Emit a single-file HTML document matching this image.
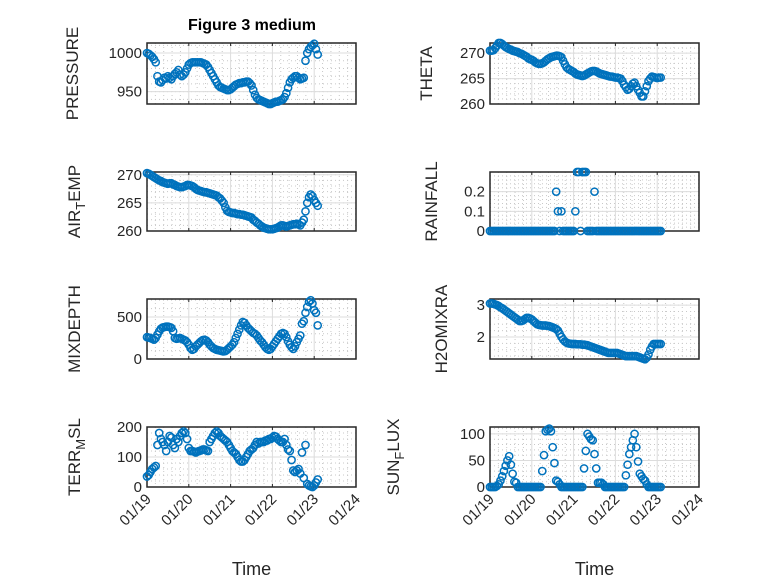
<!DOCTYPE html>
<html><head><meta charset="utf-8">
<style>
html,body{margin:0;padding:0;background:#fff;}
svg{display:block;font-family:"Liberation Sans",sans-serif;}
</style></head>
<body>
<svg id="fig" width="778" height="583" viewBox="0 0 778 583" xmlns="http://www.w3.org/2000/svg">
<rect width="778" height="583" fill="#fff"/>
<text x="252" y="30" text-anchor="middle" font-size="16" font-weight="bold" fill="#000">Figure 3 medium</text>
</svg>
<script>
const hoursStep = 1;
const pressure = [1000,999,997,995,992,988, 970,963,962,965,968,967, 970,968,966,970,973,975, 978,972,970,972,975,980, 985,987,988,988,988,988, 988,988,987,986,985,982, 978,974,970,966,962,958, 956,955,954,953,952,952, 953,955,957,959,960,961, 961,962,962,963,963,961, 958,952,946,942,940,939, 938,937,936,935,934,934, 935,936,937,937,938,939, 940,943,948,955,962,966, 968,970,970,968,966,967, 968,990,1000,1005,1008,1010, 1012,1005,998];
const airTemp = [270.3,270.2,270,269.8,269.6,269.4, 269.2,269,268.9,268.7,268.6,268.5, 268.4,268.5,268.5,268.3,268.2,268, 267.9,267.8,267.8,267.9,268,268.2, 268.2,268.1,268,267.8,267.5,267.3, 267.2,267.1,267,266.9,266.9,266.8, 266.7,266.6,266.5,266.4,266.3,266, 265.8,265.4,265,264.2,263.6,263.4, 263.3,263.2,263.2,263.1,263,263, 262.9,262.9,262.8,262.7,262.6,262.5, 262.4,262,261.8,261.5,261.3,261, 260.8,260.6,260.5,260.4,260.3,260.3, 260.3,260.4,260.5,260.6,260.8,261, 261,260.9,260.8,260.9,261,261.1, 261.2,261.2,261.3,261.2,261,261.5, 262,263.5,265,266,266.5,266.2, 265.5,265,264.5];
const mixDepth = [260,255,250,240,230,250, 290,330,360,375,380,385, 385,380,370,330,250,240, 245,250,240,230,220,200, 170,130,110,120,150,170, 190,210,225,230,220,200, 170,150,130,120,110,105, 100,95,90,95,110,130, 150,170,200,250,300,350, 400,440,430,400,370,350, 330,310,300,280,250,220, 200,170,140,120,110,120, 150,180,210,240,270,300, 310,300,260,210,170,140, 120,150,200,240,280,420, 450,550,620,680,700,660, 580,550,400];
const terrMsl = [35,40,50,60,65,70, 140,180,160,150,140,120, 150,170,165,140,130,160, 150,170,180,185,180,160, 130,120,120,118,115,118, 120,122,125,125,122,120, 150,160,170,180,185,180, 170,165,160,155,150,140, 130,120,115,110,100,90, 85,85,90,100,110,120, 125,130,140,150,145,150, 150,150,155,155,160,160, 165,170,168,160,155,150, 150,160,140,125,120,90, 55,50,55,60,45,115, 30,140,10,5,2,0, 5,15,25];
const theta = [270.5,270.5,270.6,271,271.5,272, 272,271.8,271.5,271.2,271,270.8, 270.7,270.5,270.4,270.3,270.2,270, 269.9,269.7,269.5,269.3,269,268.8, 268.7,268.5,268.2,268,267.9,267.9, 268,268.2,268.5,268.8,269,269.2, 269.3,269.4,269.5,269.5,269.4,269.2, 268.5,267.8,267.2,266.9,266.7,266.5, 266.3,266,265.8,265.7,265.6,265.5, 265.6,265.8,266,266.2,266.4,266.5, 266.5,266.4,266.2,266,265.9,265.8, 265.7,265.6,265.5,265.4,265.4,265.3, 265.2,265.2,265.1,265,264.5,263.8, 263.3,262.8,263,263.5,264,264.2, 263.5,262.8,262.2,261.5,261.5,262.5, 263.5,264.5,265,265.4,265.3,265.2, 265.1,265.2,265.2];
const rainfall = [0,0,0,0,0,0, 0,0,0,0,0,0, 0,0,0,0,0,0, 0,0,0,0,0,0, 0,0,0,0,0,0, 0,0,0,0,0,0, 0,0,0.2,0.1,0,0.1, 0,0,0,0,0,0, 0,0.1,0.3,0.3,0,0.3, 0.3,0.3,0,0,0,0, 0.2,0,0,0,0,0, 0,0,0,0,0,0, 0,0,0,0,0,0, 0,0,0,0,0,0, 0,0,0,0,0,0, 0,0,0,0,0,0, 0,0,0];
const h2oMix = [3.05,3.05,3.04,3.02,3.0,2.97, 2.93,2.9,2.86,2.82,2.78,2.74, 2.7,2.66,2.62,2.58,2.54,2.5, 2.5,2.52,2.56,2.6,2.6,2.58, 2.55,2.5,2.45,2.4,2.38,2.37, 2.36,2.36,2.36,2.35,2.34,2.32, 2.3,2.28,2.25,2.2,2.1,2.0, 1.92,1.86,1.82,1.8,1.79,1.78, 1.78,1.78,1.77,1.77,1.77,1.76, 1.76,1.75,1.74,1.72,1.7,1.68, 1.66,1.64,1.62,1.6,1.58,1.56, 1.54,1.52,1.5,1.5,1.5,1.5, 1.5,1.5,1.48,1.46,1.44,1.42, 1.4,1.4,1.4,1.4,1.4,1.4, 1.4,1.38,1.36,1.34,1.32,1.3, 1.35,1.45,1.6,1.7,1.78,1.78, 1.78,1.78,1.78];
const sunFlux = [0,0,0,0,2,5, 12,20,30,40,50,58, 42,25,10,8,0,0, 0,0,0,0,0,0, 0,0,0,0,0,0, 30,60,105,108,110,105, 75,45,12,10,5,0, 0,0,0,0,0,0, 0,0,0,0,0,0, 35,68,100,95,90,88, 62,35,8,8,8,5, 0,0,0,0,0,0, 0,0,0,0,0,0, 22,42,62,75,88,100, 75,48,25,20,15,12, 5,0,0,0,0,0, 0,0,0];
const dateTicks = ["01/19","01/20","01/21","01/22","01/23","01/24"];

const NS = "http://www.w3.org/2000/svg";
const svg = document.getElementById("fig");
function mk(tag, attrs, parent){ const e=document.createElementNS(NS,tag); for(const k in attrs) e.setAttribute(k,attrs[k]); (parent||svg).appendChild(e); return e; }

const cols = [{x0:147,x1:356},{x0:490,x1:699}];
const rows = [{y0:43,y1:104},{y0:172,y1:231},{y0:299,y1:359},{y0:427,y1:487}];

const panels = [
 {name:"pressure",col:0,row:0,data:pressure,ymin:934,ymax:1013,ticks:[950,1000],label:["PRESSURE"],lx:78},
 {name:"air-temp",col:0,row:1,data:airTemp,ymin:260,ymax:270.5,ticks:[260,265,270],label:["AIR","T","EMP"],lx:80},
 {name:"mixdepth",col:0,row:2,data:mixDepth,ymin:0,ymax:714,ticks:[0,500],label:["MIXDEPTH"],lx:80},
 {name:"terr-msl",col:0,row:3,data:terrMsl,ymin:0,ymax:200,ticks:[0,100,200],label:["TERR","M","SL"],lx:80},
 {name:"theta",col:1,row:0,data:theta,ymin:260,ymax:272,ticks:[260,265,270],label:["THETA"],lx:432},
 {name:"rainfall",col:1,row:1,data:rainfall,ymin:0,ymax:0.3,ticks:[0,0.1,0.2],label:["RAINFALL"],lx:437},
 {name:"h2omixra",col:1,row:2,data:h2oMix,ymin:1.31,ymax:3.19,ticks:[2,3],label:["H2OMIXRA"],lx:447},
 {name:"sun-flux",col:1,row:3,data:sunFlux,ymin:0,ymax:113,ticks:[0,50,100],label:["SUN","F","LUX"],lx:399}
];

panels.forEach(p=>{
  const c=cols[p.col], r=rows[p.row];
  const g=mk("g",{});
  
  
  const xs = d => c.x0 + (d/5)*(c.x1-c.x0);
  const ys = v => r.y1 - (v-p.ymin)/(p.ymax-p.ymin)*(r.y1-r.y0);
  for(let d=0; d<5; d++) for(let k=1;k<5;k++){
    const x=xs(d+k/5);
    mk("line",{x1:x,x2:x,y1:r.y0,y2:r.y1,stroke:"#c8c8c8","stroke-width":1,"stroke-dasharray":"1,3"},g);
  }
  const step = p.ticks.length>1 ? p.ticks[1]-p.ticks[0] : 1;
  for(let v=p.ticks[0]-step*2; v<=p.ymax; v+=step/5){
    if(v<p.ymin||v>p.ymax) continue;
    const y=ys(v);
    mk("line",{x1:c.x0,x2:c.x1,y1:y,y2:y,stroke:"#c8c8c8","stroke-width":1,"stroke-dasharray":"1,3"},g);
  }
  dateTicks.forEach((t,i)=>{ const x=xs(i); mk("line",{x1:x,x2:x,y1:r.y0,y2:r.y1,stroke:"#dcdcdc","stroke-width":1},g); });
  p.ticks.forEach(v=>{ const y=ys(v); mk("line",{x1:c.x0,x2:c.x1,y1:y,y2:y,stroke:"#dcdcdc","stroke-width":1},g);
    const tl=mk("text",{x:c.x0-5,y:y+5,"text-anchor":"end","font-size":"15",fill:"#262626"},g); tl.textContent=String(v);
    
    
  });
  dateTicks.forEach((t,i)=>{ const x=xs(i);
    mk("line",{x1:x,x2:x,y1:r.y1,y2:r.y1-3,stroke:"#262626"},g);
    mk("line",{x1:x,x2:x,y1:r.y0,y2:r.y0+3,stroke:"#262626"},g);
  });
  const box=mk("rect",{x:c.x0,y:r.y0,width:c.x1-c.x0,height:r.y1-r.y0,fill:"none",stroke:"#262626","stroke-width":1.5},g);
  
  
  p.data.forEach((v,i)=>{
    const d=i*hoursStep/24;
    const m=mk("circle",{cx:xs(d),cy:ys(v),r:3.6,fill:"none",stroke:"#0072BD","stroke-width":1.5},g);
    
    
  });
  const cy=(r.y0+r.y1)/2;
  const lab=mk("text",{x:p.lx,y:cy,"text-anchor":"middle","font-size":"17",fill:"#262626",transform:`rotate(-90 ${p.lx} ${cy})`},g);
  
  
  if(p.label.length===1){ lab.textContent=p.label[0]; }
  else {
    const a=mk("tspan",{},lab); a.textContent=p.label[0];
    const b=mk("tspan",{"font-size":"13",dy:"5"},lab); b.textContent=p.label[1];
    const e=mk("tspan",{dy:"-5"},lab); e.textContent=p.label[2];
  }
  if(p.row===3){
    dateTicks.forEach((t,i)=>{ const x=xs(i)+5, y=r.y1+13;
      const tl=mk("text",{x:x,y:y,"text-anchor":"end","font-size":"15",fill:"#262626",transform:`rotate(-45 ${x} ${y})`},g);
      tl.textContent=t;
      
      
    });
    const xl=mk("text",{x:(c.x0+c.x1)/2,y:575,"text-anchor":"middle","font-size":"18",fill:"#262626"},g);
    xl.textContent="Time";
    
    
  }
});
</script>
</body></html>
